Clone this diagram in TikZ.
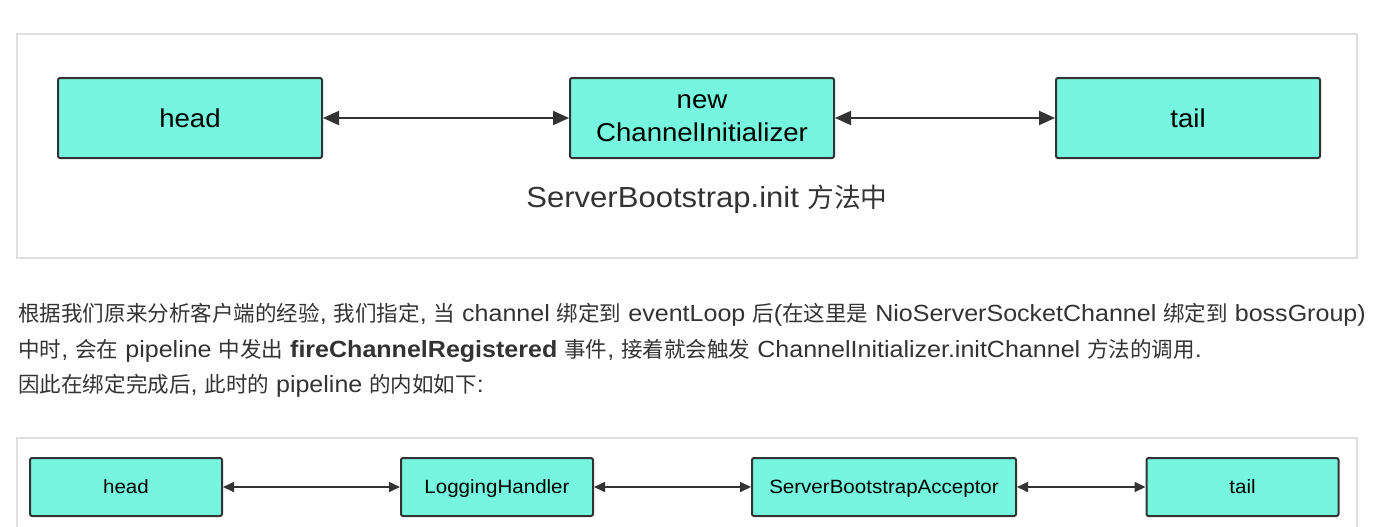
\documentclass[tikz,border=0pt]{standalone}
\usepackage{fontspec}
\setmainfont[FakeStretch=1.07]{Liberation Sans}
\newfontfamily\cjk[Scale=0.92]{Noto Sans CJK SC}
\newcommand\zhtxt[1]{{\cjk #1}}
\usetikzlibrary{arrows.meta, positioning}
\definecolor{boxfill}{RGB}{118,246,222}
\definecolor{boxline}{RGB}{51,51,51}
\definecolor{panelline}{RGB}{222,222,222}
\definecolor{txt}{RGB}{51,51,51}
\tikzset{
  bigbox/.style={draw=boxline, fill=boxfill, line width=1pt, rounded corners=1pt, inner sep=0pt,
    minimum width=132pt, minimum height=40pt, align=center, font=\fontsize{12.9}{16.3}\selectfont},
  smallbox/.style={draw=boxline, fill=boxfill, line width=1pt, rounded corners=1pt, inner sep=0pt,
    minimum width=96pt, minimum height=29pt, text height=8pt, text depth=2pt,
    font=\fontsize{9.6}{12}\selectfont},
  bigarrow/.style={{Triangle[length=8pt,width=7pt]}-{Triangle[length=8pt,width=7pt]}, line width=1pt, draw=boxline},
  smallarrow/.style={{Triangle[length=5.5pt,width=5pt]}-{Triangle[length=5.5pt,width=5pt]}, line width=0.8pt, draw=boxline},
  bodytext/.style={anchor=base west, inner sep=0pt, text=txt, font=\fontsize{11.7}{14}\selectfont}
}
\begin{document}
\begin{tikzpicture}[x=0.5pt, y=-0.5pt]
                \useasboundingbox (0,0) rectangle (1400,526);
                % top panel
                \draw[panelline, line width=0.8pt] (17,34) rectangle (1357,258);
                \node[bigbox] (h1) at (190,118) {head};
                \node[bigbox] (ci1) at (702,118) {new\\ChannelInitializer};
                \node[bigbox] (t1) at (1188,118) {tail};
                \draw[bigarrow] (h1.east) -- (ci1.west);
                \draw[bigarrow] (ci1.east) -- (t1.west);
                \node[text=txt, font=\fontsize{14.5}{17}\selectfont] (cap1) at (707,199) {ServerBootstrap.init \zhtxt{方法中}};

                % text
                \node[bodytext] (p1) at (18,321) {\zhtxt{根据我们原来分析客户端的经验}, \zhtxt{我们指定}, \zhtxt{当} channel \zhtxt{绑定到} eventLoop \zhtxt{后}(\zhtxt{在这里是} NioServerSocketChannel \zhtxt{绑定到} bossGroup)};
                \node[bodytext] (p2) at (18,357) {\zhtxt{中时}, \zhtxt{会在} pipeline \zhtxt{中发出} \textbf{fireChannelRegistered} \zhtxt{事件}, \zhtxt{接着就会触发} ChannelInitializer.initChannel \zhtxt{方法的调用}.};
                \node[bodytext] (p3) at (18,392) {\zhtxt{因此在绑定完成后}, \zhtxt{此时的} pipeline \zhtxt{的内如如下}:};

                % bottom panel
                \draw[panelline, line width=0.8pt] (17,530) -- (17,438) -- (1357,438) -- (1357,530);
                \node[smallbox] (h2) at (126,487) {head};
                \node[smallbox] (lh2) at (497,487) {LoggingHandler};
                \node[smallbox, minimum width=132pt] (sba2) at (884,487) {ServerBootstrapAcceptor};
                \node[smallbox] (t2) at (1242.5,487) {tail};
                \draw[smallarrow] (h2.east) -- (lh2.west);
                \draw[smallarrow] (lh2.east) -- (sba2.west);
                \draw[smallarrow] (sba2.east) -- (t2.west);
\end{tikzpicture}
\end{document}
